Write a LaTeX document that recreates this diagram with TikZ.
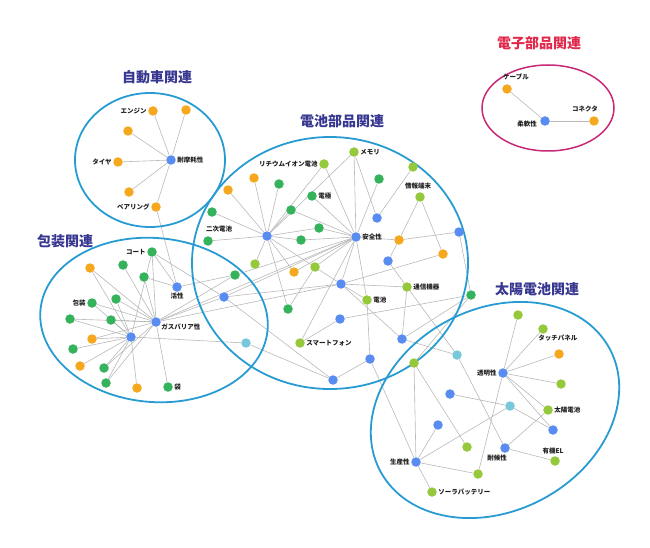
\documentclass[tikz,border=0pt]{standalone}
\usepackage{fontspec}
\newfontfamily\jp{Noto Sans CJK JP}
\definecolor{cblue}{RGB}{88,140,240}
\definecolor{corange}{RGB}{245,168,30}
\definecolor{cdg}{RGB}{52,178,92}
\definecolor{clg}{RGB}{150,200,60}
\definecolor{ccy}{RGB}{120,200,220}
\definecolor{edgec}{RGB}{185,185,185}
\definecolor{ringc}{RGB}{40,155,210}
\definecolor{magc}{RGB}{200,40,120}
\definecolor{ttlc}{RGB}{55,55,145}
\definecolor{ttlr}{RGB}{225,40,75}
\definecolor{labc}{RGB}{30,30,30}
\pgfdeclarelayer{bg}
\pgfsetlayers{bg,main}
\tikzset{
  dot/.style={circle, inner sep=0pt, minimum size=9.5pt, draw=none},
  cb/.style={dot, fill=cblue},
  co/.style={dot, fill=corange},
  cg/.style={dot, fill=cdg},
  cl/.style={dot, fill=clg},
  cc/.style={dot, fill=ccy},
  lab/.style={font=\jp\bfseries\fontsize{6.5}{7}\selectfont, text=labc, inner sep=1.2pt},
  edge/.style={draw=edgec, line width=0.6pt},
  ring/.style={draw=ringc, line width=1.8pt},
  mring/.style={draw=magc, line width=1.5pt},
  ttl/.style={font=\jp\bfseries\fontsize{14}{16}\selectfont, text=ttlc},
  ttlred/.style={font=\jp\bfseries\fontsize{14}{16}\selectfont, text=ttlr},
}
\begin{document}
\begin{tikzpicture}[x=1pt,y=-1pt]
\useasboundingbox (0,0) rectangle (650,548);
% titles
\node[ttl] (t1) at (157,77) {自動車関連};
\node[ttl] (t2) at (342,121) {電池部品関連};
\node[ttl] (t3) at (65,241) {包装関連};
\node[ttl] (t4) at (537,289) {太陽電池関連};
\node[ttlred] (t5) at (539,43) {電子部品関連};
% automobile
\node[cb, label={[lab]right:耐摩耗性}] (aH) at (171,160) {};
\node[co, label={[lab]left:エンジン}] (aE) at (153,111) {};
\node[co] (a2) at (186,110) {};
\node[co] (a3) at (128,131) {};
\node[co, label={[lab]left:タイヤ}] (aT) at (118,162) {};
\node[co] (a5) at (129,192) {};
\node[co, label={[lab]left:ベアリング}] (aB) at (156,207) {};
% packaging
\node[cb] (pG) at (156,322) {};
\node[lab, anchor=west] (tpG) at (160,327) {ガスバリア性};
\node[cb] (pB) at (131,337) {};
\node[cb, label={[lab]below:活性}] (pK) at (177,287) {};
\node[cg, label={[lab]left:コート}] (pC) at (152,252) {};
\node[co] (p1) at (90,268) {};
\node[cg] (p2) at (123,265) {};
\node[cg] (p3) at (144,277) {};
\node[cg] (p4) at (116,299) {};
\node[cg, label={[lab]left:包装}] (pP) at (92,303) {};
\node[cg] (p5) at (70,319) {};
\node[cg] (p6) at (111,320) {};
\node[co] (p7) at (92,339) {};
\node[cg] (p8) at (73,349) {};
\node[co] (p9) at (80,366) {};
\node[cg] (p10) at (104,368) {};
\node[cg] (p11) at (106,383) {};
\node[co] (p12) at (137,388) {};
\node[cg, label={[lab]right:袋}] (pF) at (168,387) {};
% battery
\node[cl, label={[lab]right:メモリ}] (bM) at (354,152) {};
\node[cl, label={[lab]left:リチウムイオン電池}] (bL) at (324,164) {};
\node[cl] (b1) at (413,167) {};
\node[co] (bo1) at (254,178) {};
\node[cg] (bg1) at (379,179) {};
\node[cg] (bg2) at (279,184) {};
\node[co] (bo2) at (228,190) {};
\node[cg, label={[lab]right:電極}] (bE) at (312,196) {};
\node[cl] (bJ) at (420,197) {};
\node[lab] (tbJ) at (418,186) {情報端末};
\node[cg] (bg3) at (212,212) {};
\node[cg] (bg4) at (291,210) {};
\node[cb] (bb1) at (377,218) {};
\node[cb] (bb2) at (459,232) {};
\node[cg] (bg5) at (319,228) {};
\node[cb] (bH1) at (267,236) {};
\node[cg] (bN) at (208,241) {};
\node[lab] (tbN) at (219,229) {二次電池};
\node[cg] (bg6) at (301,240) {};
\node[cb, label={[lab]right:安全性}] (bS) at (356,237) {};
\node[co] (bo3) at (399,240) {};
\node[co] (bo4) at (443,254) {};
\node[cl] (bl2) at (255,264) {};
\node[cb] (bb3) at (388,261) {};
\node[cl] (bl3) at (315,267) {};
\node[co] (bo5) at (294,272) {};
\node[cg] (bg7) at (235,275) {};
\node[cb] (bH3) at (341,284) {};
\node[cl, label={[lab]right:通信機器}] (bT) at (407,287) {};
\node[cg] (bg9) at (471,295) {};
\node[cb] (bb4) at (224,297) {};
\node[cl, label={[lab]right:電池}] (bD) at (367,300) {};
\node[cg] (bg8) at (288,309) {};
\node[cb] (bb5) at (340,319) {};
\node[cl, label={[lab]right:スマートフォン}] (bSm) at (300,343) {};
\node[cb] (bb6) at (402,339) {};
\node[cc] (bc1) at (246,343) {};
\node[cb] (bb7) at (370,359) {};
\node[cl] (bl4) at (414,363) {};
\node[cb] (bb8) at (333,380) {};
\node[cc] (sc1) at (457,355) {};
% solar
\node[cl] (s1) at (518,315) {};
\node[cl] (sTP) at (543,329) {};
\node[lab, anchor=north west] (tsTP) at (537,334) {タッチパネル};
\node[co] (so) at (559,354) {};
\node[cb, label={[lab]left:透明性}] (sTr) at (503,373) {};
\node[cl] (s2) at (561,384) {};
\node[cb] (sb1) at (450,394) {};
\node[cc] (sc2) at (510,406) {};
\node[cl, label={[lab]right:太陽電池}] (sSC) at (548,410) {};
\node[cb] (sb2) at (438,425) {};
\node[cb] (sb3) at (553,430) {};
\node[cl] (s3) at (467,447) {};
\node[cb] (sW) at (505,448) {};
\node[lab] (tsW) at (497,458) {耐候性};
\node[cl] (sEL) at (555,461) {};
\node[lab] (tsEL) at (553,451) {有機EL};
\node[cb, label={[lab]left:生産性}] (sP) at (416,462) {};
\node[cl] (s4) at (478,474) {};
\node[cl, label={[lab]right:ソーラバッテリー}] (sSB) at (432,492) {};
% electronics
\node[co] (eC) at (507,89) {};
\node[lab] (teC) at (516,77) {ケーブル};
\node[cb] (eF) at (545,121) {};
\node[lab] (teF) at (527,124) {柔軟性};
\node[co] (eK) at (594,121) {};
\node[lab] (teK) at (585,109) {コネクタ};

\begin{pgfonlayer}{bg}
\foreach \a/\b in {aH/aE,aH/a2,aH/a3,aH/aT,aH/a5,aH/aB,aB/pK,
  pG/pC,pG/p1,pG/p2,pG/p3,pG/pP,pG/p4,pG/p5,pG/p6,pG/p7,pG/p10,pG/p11,pG/pF,pG/bg7,pG/bb4,pG/bS,pG/bH3,
  pB/pC,pB/p1,pB/p4,pB/pP,pB/p6,pB/p5,pB/p7,pB/p8,pB/p9,pB/p10,pB/p11,pB/p12,pB/bc1,
  pK/pC,pK/p3,pK/bg7,pC/bb4,
  bg7/bS,bb4/bS,bb4/bH3,bb4/bb8,bc1/bb8,
  bH1/bo1,bH1/bo2,bH1/bg2,bH1/bg3,bH1/bN,bH1/bl2,bH1/bg4,bH1/bg5,bH1/bg6,bH1/bH3,bH1/bo5,bH1/bg8,bH1/bL,
  bS/bM,bS/bL,bS/bE,bS/bg4,bS/bg5,bS/bg6,bS/bg1,bS/bo3,bS/bl3,bS/bo5,bS/bH3,bS/bD,bS/bSm,
  bM/bH1,bM/bb1,b1/bb1,bJ/bo3,bJ/bo4,bo3/bb2,bo3/bb3,bb3/bT,bo4/bH3,bb2/bg9,
  bH3/bT,bH3/bD,bH3/bb6,bD/bb7,bT/bb6,bT/sc1,bb5/bSm,bb5/bg9,bb6/sc1,bb6/bg9,
  bb7/bb8,bb7/sP,bl4/sP,bl4/s3,bl4/bg9,sc1/sW,bg8/bl3,
  sTr/s1,sTr/sTP,sTr/so,sTr/s2,sTr/sSC,sTr/sb3,sTr/s4,
  sc2/sb1,sc2/sP,sc2/sb3,sSC/sW,sW/sEL,sP/sb2,sP/sSB,sP/s4,
  eC/eF,eF/eK}
  \draw[edge] (\a) -- (\b);
% rings
\draw[ring] (150,160) ellipse [x radius=75pt, y radius=67pt];
\draw[ring] (330,263) ellipse [x radius=138pt, y radius=126pt];
\draw[ring, rotate around={-5:(154,320)}] (154,320) ellipse [x radius=114pt, y radius=82pt];
\draw[ring, rotate around={28:(495,410)}] (495,410) ellipse [x radius=130pt, y radius=101pt];
\draw[mring] (548,108) ellipse [x radius=66pt, y radius=43pt];
\end{pgfonlayer}
\end{tikzpicture}
\end{document}
